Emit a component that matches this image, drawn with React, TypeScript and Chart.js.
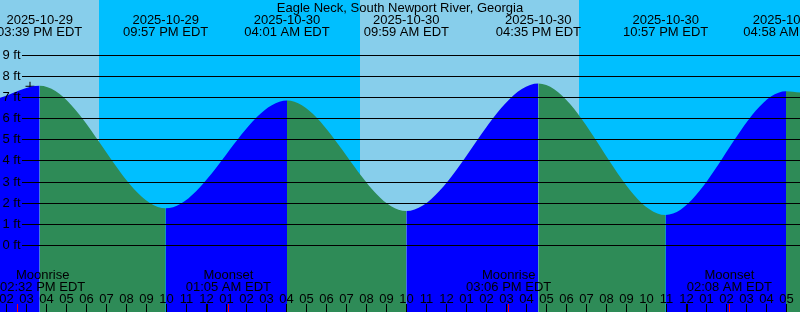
import React, { useEffect, useRef } from 'react';
import { Chart, registerables } from 'chart.js';

Chart.register(...registerables);

// ---------- data ----------
const TITLE = 'Eagle Neck, South Newport River, Georgia';
const ZONE = 'EDT';
const ORIGIN = '2025-10-29 00:00';

// high / low tide times and levels (ft)
const extremeTimes = [
  '2025-10-29 15:39',
  '2025-10-29 21:57',
  '2025-10-30 04:01',
  '2025-10-30 09:59',
  '2025-10-30 16:35',
  '2025-10-30 22:57',
  '2025-10-31 04:58',
];
const extremeLevels = [7.55, 1.75, 6.85, 1.62, 7.65, 1.43, 7.28];

// levels at the window edges
const edgeTimes = ['2025-10-29 13:40', '2025-10-31 05:40'];
const edgeLevels = [6.98, 7.22];

// sun events (day / night bands)
const sunTimes = ['2025-10-29 18:37', '2025-10-30 07:40', '2025-10-30 18:37'];
const sunEvents = ['Sunset', 'Sunrise', 'Sunset'];

// moon events
const moonTimes = ['2025-10-29 14:32', '2025-10-30 01:05', '2025-10-30 15:06', '2025-10-31 02:08'];
const moonEvents = ['Moonrise', 'Moonset', 'Moonrise', 'Moonset'];

// level tick labels (ft)
const levelTicks = [0, 1, 2, 3, 4, 5, 6, 7, 8, 9];

// current time marker
const nowTime = '2025-10-29 15:10';
const nowLevel = 7.52;

// ---------- styles ----------
const DAY = '#87CEEB';
const NIGHT = '#00BFFF';
const RISE = '#0000FF';
const FALL = '#2E8B57';
const FONT = "13px 'Liberation Sans', Arial, sans-serif";

// ---------- helpers ----------
function toMs(s: string) {
  const [d, t] = s.split(' ');
  const [Y, M, D] = d.split('-').map(Number);
  const [h, m] = t.split(':').map(Number);
  return Date.UTC(Y, M - 1, D, h, m);
}
function toHours(s: string) {
  return (toMs(s) - toMs(ORIGIN)) / 3600000;
}
const pad = (n: number) => String(n).padStart(2, '0');
function fmtClock(s: string) {
  const [h, m] = s.split(' ')[1].split(':').map(Number);
  const h12 = h % 12 === 0 ? 12 : h % 12;
  return `${pad(h12)}:${pad(m)} ${h < 12 ? 'AM' : 'PM'} ${ZONE}`;
}

const X_MIN = toHours(edgeTimes[0]);
const X_MAX = toHours(edgeTimes[1]);
const Y_MIN = -3.155;
const Y_MAX = 11.6;

const tidePoints = [
  { x: toHours(edgeTimes[0]), y: edgeLevels[0] },
  ...extremeTimes.map((t, i) => ({ x: toHours(t), y: extremeLevels[i] })),
  { x: toHours(edgeTimes[1]), y: edgeLevels[1] },
];

const decorPlugin = {
  id: 'tideDecor',
  beforeDraw(chart: any) {
    const { ctx, chartArea: a, scales } = chart;
    const x = scales.x;
    const bounds = [
      a.left,
      ...sunTimes.map((t) => Math.round(x.getPixelForValue(toHours(t)))),
      a.right,
    ];
    let day = sunEvents[0] === 'Sunset';
    ctx.save();
    for (let i = 0; i < bounds.length - 1; i++) {
      ctx.fillStyle = day ? DAY : NIGHT;
      ctx.fillRect(bounds[i], a.top, bounds[i + 1] - bounds[i], a.bottom - a.top);
      day = !day;
    }
    ctx.restore();
  },
  afterDatasetsDraw(chart: any) {
    const { ctx, chartArea: a, scales } = chart;
    const x = scales.x;
    const y = scales.y;
    ctx.save();
    ctx.font = FONT;
    ctx.fillStyle = '#000';
    ctx.strokeStyle = '#000';
    ctx.lineWidth = 1;

    // level grid lines and labels
    for (const v of levelTicks) {
      const py = Math.floor(y.getPixelForValue(v) + 0.2) + 0.5;
      ctx.beginPath();
      ctx.moveTo(22, py);
      ctx.lineTo(a.right, py);
      ctx.stroke();
      ctx.textAlign = 'right';
      ctx.textBaseline = 'middle';
      ctx.fillText(`${v} ft`, 20.5, py);
    }

    // title
    ctx.textAlign = 'center';
    ctx.textBaseline = 'alphabetic';
    ctx.fillText(TITLE, (a.left + a.right) / 2, 11.5);

    // extreme labels
    extremeTimes.forEach((t) => {
      const px = x.getPixelForValue(toHours(t));
      ctx.fillText(t.slice(0, 10), px, 23.5);
      ctx.fillText(fmtClock(t), px, 36);
    });

    // hour ticks & labels
    for (let h = Math.ceil(X_MIN); h <= Math.floor(X_MAX); h++) {
      const px = Math.floor(x.getPixelForValue(h));
      const hr = ((h % 24) + 24) % 24;
      const h12 = hr % 12 === 0 ? 12 : hr % 12;
      ctx.fillStyle = '#000';
      ctx.fillText(pad(h12), px + 0.5, 302.5);
      ctx.fillRect(px, 304, hr === 0 ? 2 : 1, 8);
    }

    // moon events (label block kept inside the canvas)
    moonTimes.forEach((t, i) => {
      const px = x.getPixelForValue(toHours(t));
      const l1 = moonEvents[i];
      const l2 = fmtClock(t);
      const w = Math.max(ctx.measureText(l1).width, ctx.measureText(l2).width);
      const cx = Math.min(Math.max(px, a.left + w / 2), a.right - w / 2);
      ctx.fillStyle = '#000';
      ctx.fillText(l1, cx, 278.5);
      ctx.fillText(l2, cx, 290.5);
      ctx.fillStyle = '#FF0000';
      ctx.fillRect(Math.floor(px), 304, 1, 8);
    });
    ctx.restore();
  },
};

export default function App() {
  const ref = useRef<HTMLCanvasElement>(null);
  useEffect(() => {
    const canvas = ref.current;
    if (!canvas) return;
    document.body.style.margin = '0';
    const chart = new Chart(canvas, {
      type: 'line',
      data: {
        datasets: [
          {
            data: tidePoints,
            fill: 'start',
            borderWidth: 0,
            pointRadius: 0,
            cubicInterpolationMode: 'monotone',
            backgroundColor: RISE,
            segment: {
              backgroundColor: (c: any) => (c.p1.parsed.y >= c.p0.parsed.y ? RISE : FALL),
            },
          } as any,
          {
            type: 'scatter',
            data: [{ x: toHours(nowTime), y: nowLevel }],
            pointStyle: 'cross',
            pointRadius: 4.5,
            borderColor: '#000',
            backgroundColor: '#000',
            borderWidth: 1,
          } as any,
        ],
      },
      options: {
        responsive: false,
        animation: false,
        devicePixelRatio: 1,
        layout: { padding: 0, autoPadding: false },
        events: [],
        scales: {
          x: { type: 'linear', min: X_MIN, max: X_MAX, display: false },
          y: { type: 'linear', min: Y_MIN, max: Y_MAX, display: false },
        },
        plugins: { legend: { display: false }, tooltip: { enabled: false } },
      },
      plugins: [decorPlugin],
    });
    return () => chart.destroy();
  }, []);
  return (
    <div style={{ width: 800, height: 312, margin: 0, padding: 0, overflow: 'hidden' }}>
      <canvas ref={ref} width={800} height={312} style={{ display: 'block', width: 800, height: 312 }} />
    </div>
  );
}
